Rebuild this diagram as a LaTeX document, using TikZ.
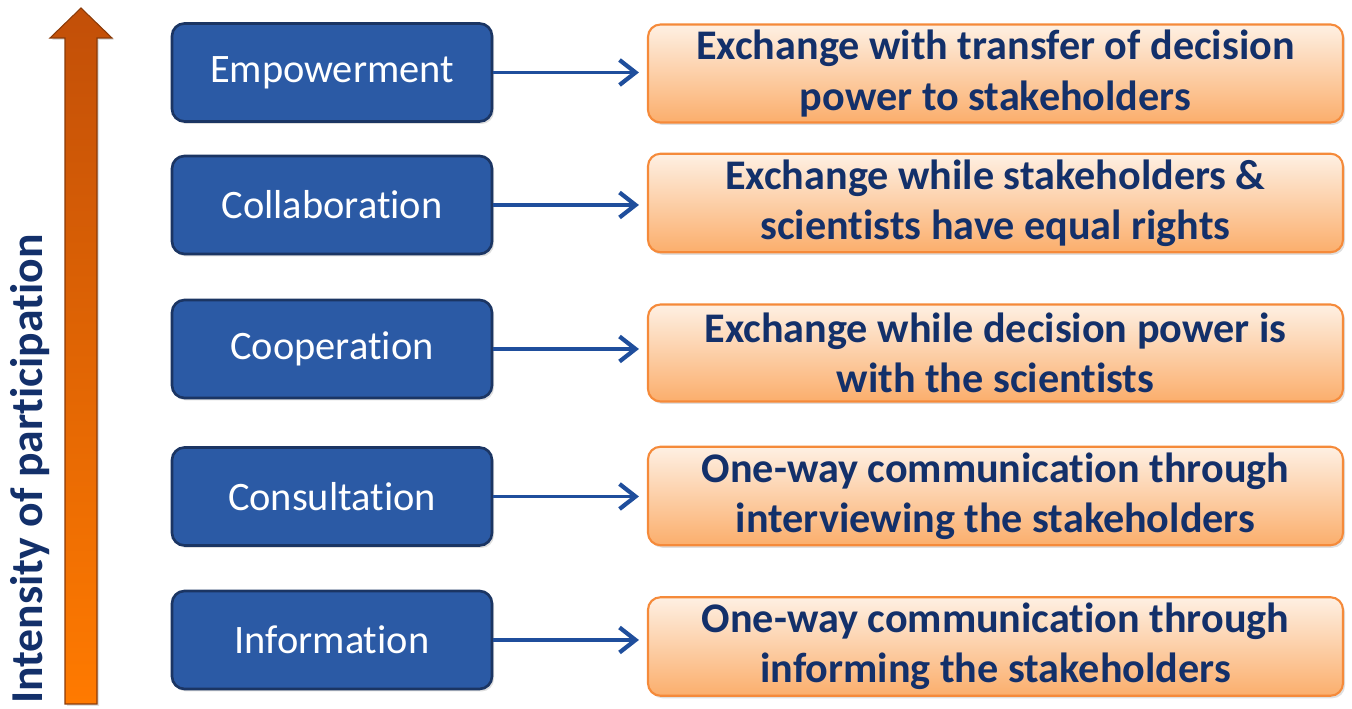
\documentclass[tikz,border=0pt]{standalone}
\usepackage{fontspec}
\setmainfont[Ligatures=NoCommon]{Carlito}
\usetikzlibrary{shadows,arrows.meta}

\definecolor{stageblue}{HTML}{2B5AA5}
\definecolor{stageedge}{HTML}{1B3563}
\definecolor{resultedge}{HTML}{F58A3A}
\definecolor{resulttop}{HTML}{FEF0E3}
\definecolor{resultbot}{HTML}{FBAE6C}
\definecolor{navytext}{HTML}{13306A}
\definecolor{linkblue}{HTML}{1F4E9C}
\definecolor{arrowtop}{HTML}{C24F08}
\definecolor{arrowbot}{HTML}{FF7A00}
\definecolor{arrowedge}{HTML}{8A3A08}

\tikzset{
  stage/.style={draw=stageedge, line width=1.5pt, fill=stageblue, rounded corners=0.25cm,
    minimum width=6.4cm, minimum height=1.96cm, text=white, font=\fontsize{23}{27}\selectfont,
    drop shadow={opacity=0.25, shadow xshift=0.04cm, shadow yshift=-0.05cm}},
  result/.style={draw=resultedge, line width=1.2pt, top color=resulttop, bottom color=resultbot,
    rounded corners=0.25cm, minimum width=13.9cm, minimum height=1.94cm, text=navytext,
    align=center, font=\bfseries\fontsize{24}{28.5}\selectfont,
    drop shadow={opacity=0.25, shadow xshift=0.04cm, shadow yshift=-0.05cm}},
  link/.style={linkblue, line width=2.2pt, -{Straight Barb[length=0.32cm, width=0.5cm, line width=2.4pt]}, shorten >=0.16cm}
}

\begin{document}
\begin{tikzpicture}
    \useasboundingbox (0,0) rectangle (27.04,14.18);

    % rising arrow on the left
    \shade[top color=arrowtop, bottom color=arrowbot, draw=arrowedge, line width=0.6pt,
      drop shadow={opacity=0.25, shadow xshift=0.04cm, shadow yshift=-0.04cm}]
      (1.3,0.1) -- (1.3,13.42) -- (1.0,13.42) -- (1.62,14.02) -- (2.24,13.42)
      -- (1.94,13.42) -- (1.94,0.1) -- cycle;
    \node[rotate=90, anchor=base west, inner sep=0pt, text=navytext,
      font=\bfseries\fontsize{26}{30}\selectfont] (axis) at (0.86,0.1) {Intensity of participation};

    \node[stage] (empower) at (6.64,12.73) {Empowerment};
    \node[stage] (collab) at (6.64,10.08) {Collaboration};
    \node[stage] (coop) at (6.64,7.2) {Cooperation};
    \node[stage] (consult) at (6.64,4.25) {Consultation};
    \node[stage] (inform) at (6.64,1.38) {Information};

    \node[result] (transfer) at (19.91,12.71) {Exchange with transfer of decision\\power to stakeholders};
    \node[result] (equal) at (19.91,10.12) {Exchange while stakeholders \&\\scientists have equal rights};
    \node[result] (science) at (19.91,7.12) {Exchange while decision power is\\with the scientists};
    \node[result] (interview) at (19.91,4.26) {One-way communication through\\interviewing the stakeholders};
    \node[result] (informing) at (19.91,1.25) {One-way communication through\\informing the stakeholders};

    \draw[link] (empower.east) -- (empower.east -| transfer.west);
    \draw[link] (collab.east) -- (collab.east -| equal.west);
    \draw[link] (coop.east) -- (coop.east -| science.west);
    \draw[link] (consult.east) -- (consult.east -| interview.west);
    \draw[link] (inform.east) -- (inform.east -| informing.west);
\end{tikzpicture}
\end{document}
